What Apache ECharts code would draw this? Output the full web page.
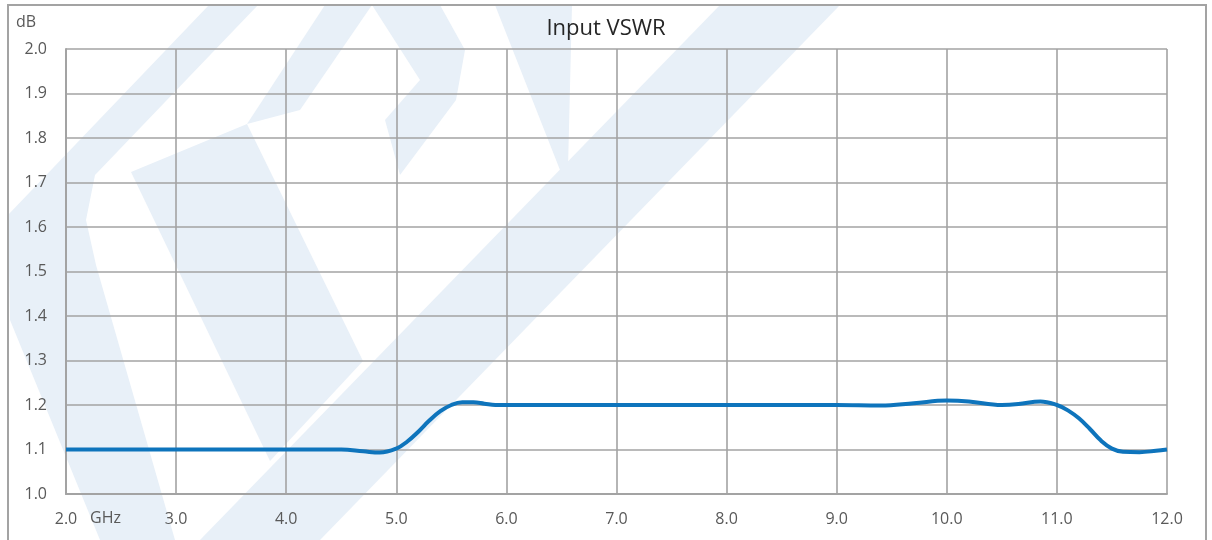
<!DOCTYPE html>
<html>
<head>
<meta charset="utf-8">
<script src="https://cdn.jsdelivr.net/npm/echarts@6/dist/echarts.min.js"></script>
<style>
html,body{margin:0;padding:0;background:#fff;}
#chart{width:1212px;height:540px;}
</style>
</head>
<body>
<div id="chart"></div>
<script>
// Frequency (GHz) and Input VSWR
const freqGHz = [2.0, 2.5, 3.0, 3.5, 4.0, 4.5, 4.7, 4.85, 5.0, 5.1, 5.2, 5.3, 5.4, 5.5, 5.6, 5.7, 5.8, 5.9, 6.0, 6.5, 7.0, 7.5, 8.0, 8.5, 9.0, 9.4, 9.7, 10.0, 10.2, 10.5, 10.65, 10.85, 11.0, 11.1, 11.2, 11.3, 11.4, 11.5, 11.6, 11.75, 11.9, 12.0];
const vswr    = [1.100, 1.100, 1.100, 1.100, 1.100, 1.100, 1.096, 1.093, 1.102, 1.118, 1.140, 1.165, 1.186, 1.200, 1.206, 1.206, 1.203, 1.200, 1.200, 1.200, 1.200, 1.200, 1.200, 1.200, 1.200, 1.199, 1.204, 1.210, 1.208, 1.200, 1.202, 1.208, 1.200, 1.188, 1.170, 1.146, 1.120, 1.102, 1.095, 1.094, 1.097, 1.100];
const titleText = 'Input VSWR';
const yUnit = 'dB';
const xUnit = 'GHz';
const xTicks = [2, 3, 4, 5, 6, 7, 8, 9, 10, 11, 12];
const yTicks = [1.0, 1.1, 1.2, 1.3, 1.4, 1.5, 1.6, 1.7, 1.8, 1.9, 2.0];

const FONT = '"Open Sans", "Liberation Sans", sans-serif';
const LABEL_COLOR = '#595959';
const GRID_COLOR = '#a3a3a3';
const WM = '#e8f0f8';

const chart = echarts.init(document.getElementById('chart'), null, {renderer: 'canvas'});
const seriesData = freqGHz.map((f, i) => [f, vswr[i]]);

function wm(points) {
  return {type: 'polygon', z: -10, silent: true, shape: {points: points}, style: {fill: WM}};
}

chart.setOption({
  animation: false,
  backgroundColor: '#ffffff',
  title: {
    text: titleText,
    left: 'center',
    top: 13,
    textStyle: {fontFamily: FONT, fontSize: 22, fontWeight: 'normal', color: '#262626'}
  },
  grid: {left: 66, right: 45, top: 49, bottom: 46, show: false},
  xAxis: {
    type: 'value',
    min: xTicks[0], max: xTicks[xTicks.length - 1], interval: 1,
    axisLine: {show: true, lineStyle: {color: GRID_COLOR, width: 2}},
    axisTick: {show: false},
    splitLine: {show: true, lineStyle: {color: GRID_COLOR, width: 1.6}},
    axisLabel: {
      margin: 17, color: LABEL_COLOR, fontFamily: FONT, fontSize: 16,
      formatter: v => v.toFixed(1)
    }
  },
  yAxis: {
    type: 'value',
    min: yTicks[0], max: yTicks[yTicks.length - 1], interval: 0.1,
    axisLine: {show: true, lineStyle: {color: GRID_COLOR, width: 2}},
    axisTick: {show: false},
    splitLine: {show: true, lineStyle: {color: GRID_COLOR, width: 1.6}},
    axisLabel: {
      margin: 19, color: LABEL_COLOR, fontFamily: FONT, fontSize: 16,
      formatter: v => v.toFixed(1)
    }
  },
  graphic: [
    wm([[209,5],[258,5],[95,175],[86,220],[96,265],[175,540],[100,540],[10,320],[8,215]]),
    wm([[131,172],[247,124],[363,361],[270,461]]),
    wm([[247,124],[325,5],[372,5],[300,110]]),
    wm([[372,5],[440,5],[465,50],[456,100],[400,175],[385,120],[420,80]]),
    wm([[495,5],[572,5],[568,168],[560,170]]),
    wm([[720,5],[840,5],[320,540],[200,540]]),
    {type: 'rect', z: 100, silent: true, shape: {x: 8, y: 5, width: 1198, height: 545}, style: {fill: 'none', stroke: GRID_COLOR, lineWidth: 2}},
    {type: 'text', z: 100, left: 16, top: 14, style: {text: yUnit, fill: LABEL_COLOR, font: '16px ' + FONT}},
    {type: 'text', z: 100, left: 90, top: 510, style: {text: xUnit, fill: LABEL_COLOR, font: '16px ' + FONT}}
  ],
  series: [{
    type: 'line',
    data: seriesData,
    smooth: 0.4,
    showSymbol: false,
    symbol: 'none',
    lineStyle: {color: '#0e74bc', width: 4},
    z: 5
  }]
});
</script>
</body>
</html>
